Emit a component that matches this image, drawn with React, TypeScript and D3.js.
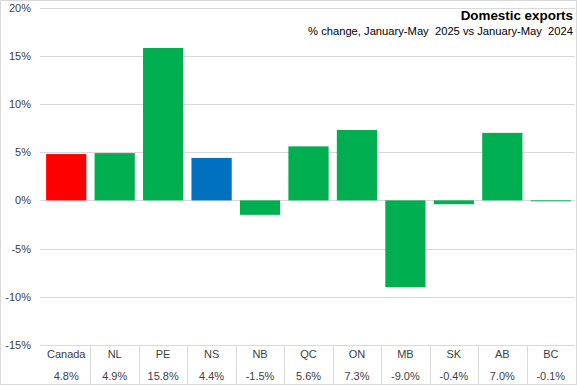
import * as d3 from 'd3';
import React, { useRef, useEffect } from 'react';

// data
const regions = ['Canada', 'NL', 'PE', 'NS', 'NB', 'QC', 'ON', 'MB', 'SK', 'AB', 'BC'];
const changes = [4.8, 4.9, 15.8, 4.4, -1.5, 5.6, 7.3, -9.0, -0.4, 7.0, -0.1];
const barColors = ['#FF0000', '#00B050', '#00B050', '#0070C0', '#00B050', '#00B050', '#00B050', '#00B050', '#00B050', '#00B050', '#00B050'];
const yTicks = [20, 15, 10, 5, 0, -5, -10, -15];

const W = 577;
const H = 385;
const FONT = '"Liberation Sans Narrow", "Liberation Sans", Arial, sans-serif';

function App() {
    const ref = useRef<SVGSVGElement>(null);

    useEffect(() => {
        const svg = d3.select(ref.current);
        svg.selectAll('*').remove();

        const margin = { top: 7.5, right: 2, bottom: 40, left: 42 };

        const x = d3.scaleBand()
            .domain(regions)
            .range([margin.left, W - margin.right])
            .paddingInner(0.17)
            .paddingOuter(0.085);

        const xCol = d3.scaleBand()
            .domain(regions)
            .range([margin.left, W - margin.right]);

        const y = d3.scaleLinear()
            .domain([-15, 20])
            .range([H - margin.bottom, margin.top]);

        // chart border
        svg.append('rect')
            .attr('x', 0.5).attr('y', 0.5)
            .attr('width', W - 1).attr('height', H - 1)
            .attr('fill', '#fff')
            .attr('stroke', '#d9d9d9');

        // gridlines
        svg.append('g')
            .selectAll('line')
            .data(yTicks)
            .enter()
            .append('line')
            .attr('x1', margin.left - 2)
            .attr('x2', W - margin.right)
            .attr('y1', d => Math.round(y(d)) + 0.5)
            .attr('y2', d => Math.round(y(d)) + 0.5)
            .attr('stroke', '#d9d9d9');

        // y labels
        svg.append('g')
            .selectAll('text')
            .data(yTicks)
            .enter()
            .append('text')
            .attr('x', 31)
            .attr('y', d => y(d) + 4)
            .attr('text-anchor', 'end')
            .style('font-family', FONT)
            .style('font-size', '11px')
            .style('fill', '#404040')
            .text(d => d + '%');

        // bars
        svg.append('g')
            .selectAll('rect')
            .data(changes)
            .enter()
            .append('rect')
            .attr('x', (d, i) => x(regions[i])!)
            .attr('width', x.bandwidth())
            .attr('y', d => y(Math.max(0, d)))
            .attr('height', d => Math.abs(y(d) - y(0)))
            .attr('fill', (d, i) => barColors[i]);

        // data table
        const tableTop = y(-15);
        const table = svg.append('g');
        table.selectAll('line')
            .data(regions.slice(1))
            .enter()
            .append('line')
            .attr('x1', d => Math.round(xCol(d)!) + 0.5)
            .attr('x2', d => Math.round(xCol(d)!) + 0.5)
            .attr('y1', tableTop)
            .attr('y2', H)
            .attr('stroke', '#d9d9d9');

        table.selectAll('.cat')
            .data(regions)
            .enter()
            .append('text')
            .attr('class', 'cat')
            .attr('x', d => xCol(d)! + xCol.bandwidth() / 2)
            .attr('y', tableTop + 13)
            .attr('text-anchor', 'middle')
            .style('font-family', FONT)
            .style('font-size', '11px')
            .style('fill', '#404040')
            .text(d => d);

        table.selectAll('.val')
            .data(changes)
            .enter()
            .append('text')
            .attr('class', 'val')
            .attr('x', (d, i) => xCol(regions[i])! + xCol.bandwidth() / 2)
            .attr('y', tableTop + 35)
            .attr('text-anchor', 'middle')
            .style('font-family', FONT)
            .style('font-size', '11px')
            .style('fill', '#404040')
            .text(d => d.toFixed(1) + '%');

        // header
        svg.append('text')
            .attr('x', W - 4)
            .attr('y', 20)
            .attr('text-anchor', 'end')
            .style('font-family', FONT)
            .style('font-size', '13.4px')
            .style('font-weight', 'bold')
            .style('fill', '#000')
            .text('Domestic exports');

        svg.append('text')
            .attr('x', W - 4)
            .attr('y', 35)
            .attr('text-anchor', 'end')
            .style('font-family', FONT)
            .style('font-size', '11.2px')
            .style('fill', '#000')
            .style('white-space', 'pre')
            .text('% change, January-May  2025 vs January-May  2024');
    }, []);

    return (
        <svg ref={ref} width={W} height={H}
            style={{ position: 'fixed', left: 0, top: 0, display: 'block' }} />
    );
}

export default App;
